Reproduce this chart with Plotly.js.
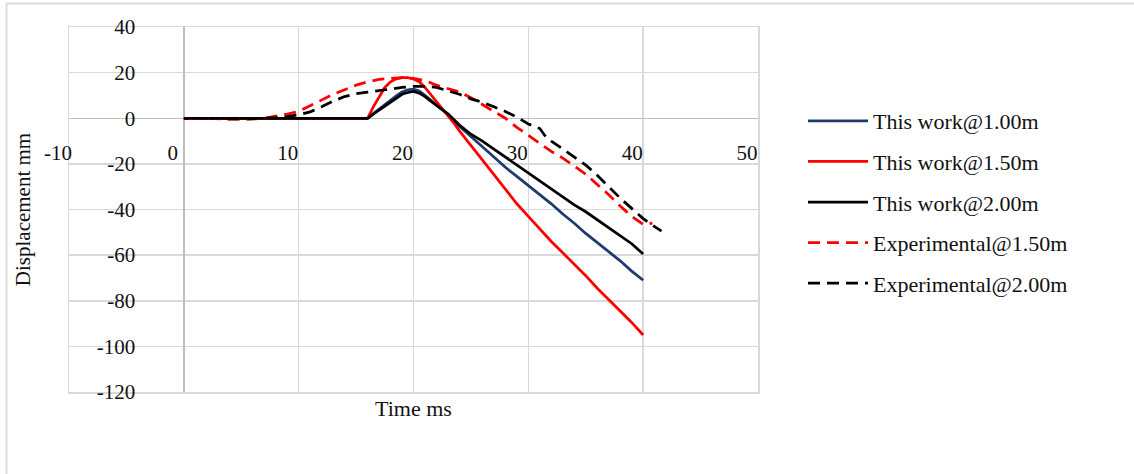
<!DOCTYPE html>
<html>
<head>
<meta charset="utf-8">
<script src="https://cdn.plot.ly/plotly-3.0.1.min.js"></script>
<style>html,body{margin:0;padding:0;background:#fff;}#chart{width:1134px;height:474px;}</style>
</head>
<body>
<div id="chart"></div>
<script>
// ---- Data ----
var seriesNames = ["This work@1.00m", "This work@1.50m", "This work@2.00m", "Experimental@1.50m", "Experimental@2.00m"];

var tWork = [0, 2, 4, 6, 8, 10, 12, 14, 16, 16.5, 17, 17.5, 18, 18.5, 19, 19.5, 20, 20.5, 21, 21.5, 22, 22.5, 23, 23.5, 24, 25, 26, 27, 28, 29, 30, 31, 32, 33, 34, 35, 36, 37, 38, 39, 40];
var work100 = [0, 0, 0, 0, 0, 0, 0, 0, 0, 2, 4, 6, 8, 9.8, 11.5, 12.5, 12.8, 12, 10, 8, 6, 3.8, 1.5, -1, -3.5, -8, -12.5, -17, -21.5, -25.5, -29.5, -33.5, -37.5, -42, -46, -50.5, -54.5, -58.5, -62.5, -67, -71];
var work150 = [0, 0, 0, 0, 0, 0, 0, 0, 0, 5, 9.5, 13.5, 16, 17.3, 17.8, 17.8, 17.2, 16, 13.5, 10.5, 7.5, 4.5, 1.5, -2, -5.5, -12, -18.5, -25, -31.5, -37.5, -43, -48.5, -54, -59, -64, -69, -74.5, -79.5, -84.5, -89.5, -95];
var work200 = [0, 0, 0, 0, 0, 0, 0, 0, 0, 1.8, 3.5, 5.3, 7, 8.8, 10.5, 11.3, 11.8, 11, 9.5, 7.5, 5.5, 3.8, 2, -0.5, -3, -7, -10, -13.5, -17, -20.5, -24, -27.5, -31, -34.5, -38, -41, -44.5, -48, -51.5, -55, -59.5];

var tExp150 = [0.5, 2, 4, 5.5, 7, 8, 9, 10, 11, 12, 13, 14, 15, 16, 17, 18, 19, 20, 21, 22, 23, 24, 25, 26, 27, 28, 29, 30, 31, 32, 33, 34, 35, 36, 37, 38, 39, 40, 40.8];
var exp150 = [0, 0, -0.5, -0.5, 0, 0.8, 1.8, 3, 5.5, 8, 10.5, 12.5, 14.5, 16, 17, 17.5, 17.8, 17.5, 16.5, 14.5, 13, 11.5, 9, 6, 3, 0, -4, -7.5, -11, -14.5, -17.5, -21, -24.5, -29, -33.5, -38.5, -43, -46.5, -46];

var tExp200 = [0.5, 2, 4, 6, 8, 9, 10, 11, 12, 13, 14, 15, 16, 17, 18, 19, 20, 21, 22, 23, 24, 25, 26, 27, 28, 29, 30, 31, 31.5, 32, 33, 34, 35, 36, 37, 38, 39, 40, 41, 41.6];
var exp200 = [0, 0, -0.3, -0.2, 0.3, 0.7, 1.5, 2.8, 5, 7.5, 9.5, 10.8, 11.5, 12, 12.8, 13.5, 14, 14, 13.5, 12, 10.5, 8.5, 7, 5, 3, 0.5, -2.5, -4.5, -8, -10, -13.5, -17, -20.5, -25, -30, -35, -39.5, -44, -47.5, -49.5];

var xTicks = [-10, 0, 10, 20, 30, 40, 50];
var yTicks = [-120, -100, -80, -60, -40, -20, 0, 20, 40];

// ---- Styling ----
var serif = "Liberation Serif, Times New Roman, serif";
var colors = ["#1f3a6e", "#ff0000", "#000000", "#ff0000", "#000000"];
var dashes = ["solid", "solid", "solid", "12px,7px", "12px,7px"];
var xs = [tWork, tWork, tWork, tExp150, tExp200];
var ys = [work100, work150, work200, exp150, exp200];

var traces = seriesNames.map(function (n, i) {
  return {
    type: "scatter", mode: "lines", name: n,
    x: xs[i], y: ys[i], legendgroup: "g" + i,
    line: {color: colors[i], width: 2.75, dash: dashes[i]},
    hoverinfo: "skip"
  };
});

var W = 1134, H = 474, L = 69, R = 758, T = 27, B = 392;
var pw = R - L, ph = B - T;
function px2x(p) { return (p - L) / pw; }
function py2y(p) { return (B - p) / ph; }

var layout = {
  width: W, height: H,
  margin: {l: L, r: W - R, t: T, b: H - B, pad: 0},
  paper_bgcolor: "#ffffff", plot_bgcolor: "#ffffff",
  font: {family: serif, size: 21, color: "#111111"},
  showlegend: true,
  legend: {
    x: px2x(803), xanchor: "left", y: py2y(202), yanchor: "middle",
    font: {family: serif, size: 22, color: "#111111"},
    itemwidth: 60, tracegroupgap: 9, bgcolor: "rgba(0,0,0,0)"
  },
  xaxis: {
    range: [-10, 50], tickvals: xTicks, ticktext: xTicks.map(String),
    showgrid: true, gridcolor: "#d9d9d9", gridwidth: 1.5,
    zeroline: true, zerolinecolor: "#bdbdbd", zerolinewidth: 1.5,
    showline: true, mirror: true, linecolor: "#d9d9d9", linewidth: 1.5,
    ticks: "", ticklabelstandoff: -259, ticklabelshift: -11,
    tickfont: {family: serif, size: 21, color: "#111111"},
    title: {text: "Time ms", font: {family: serif, size: 22, color: "#111111"}, standoff: 237},
    fixedrange: true
  },
  yaxis: {
    range: [-120, 40], tickvals: yTicks, ticktext: yTicks.map(String),
    showgrid: true, gridcolor: "#d9d9d9", gridwidth: 1.5,
    zeroline: true, zerolinecolor: "#bdbdbd", zerolinewidth: 1.5,
    showline: true, mirror: true, linecolor: "#d9d9d9", linewidth: 1.5,
    ticks: "", ticklabelstandoff: -72,
    tickfont: {family: serif, size: 21, color: "#111111"},
    title: {text: "Displacement mm", font: {family: serif, size: 21, color: "#111111"}, standoff: 60},
    fixedrange: true
  },
  shapes: [{
    type: "rect", xref: "paper", yref: "paper", layer: "below",
    x0: px2x(6.5), x1: px2x(1200), y0: py2y(520), y1: py2y(3.5),
    line: {color: "#dcdcdc", width: 2}, fillcolor: "rgba(0,0,0,0)"
  }]
};

Plotly.newPlot("chart", traces, layout, {displayModeBar: false, staticPlot: true});
</script>
</body>
</html>
